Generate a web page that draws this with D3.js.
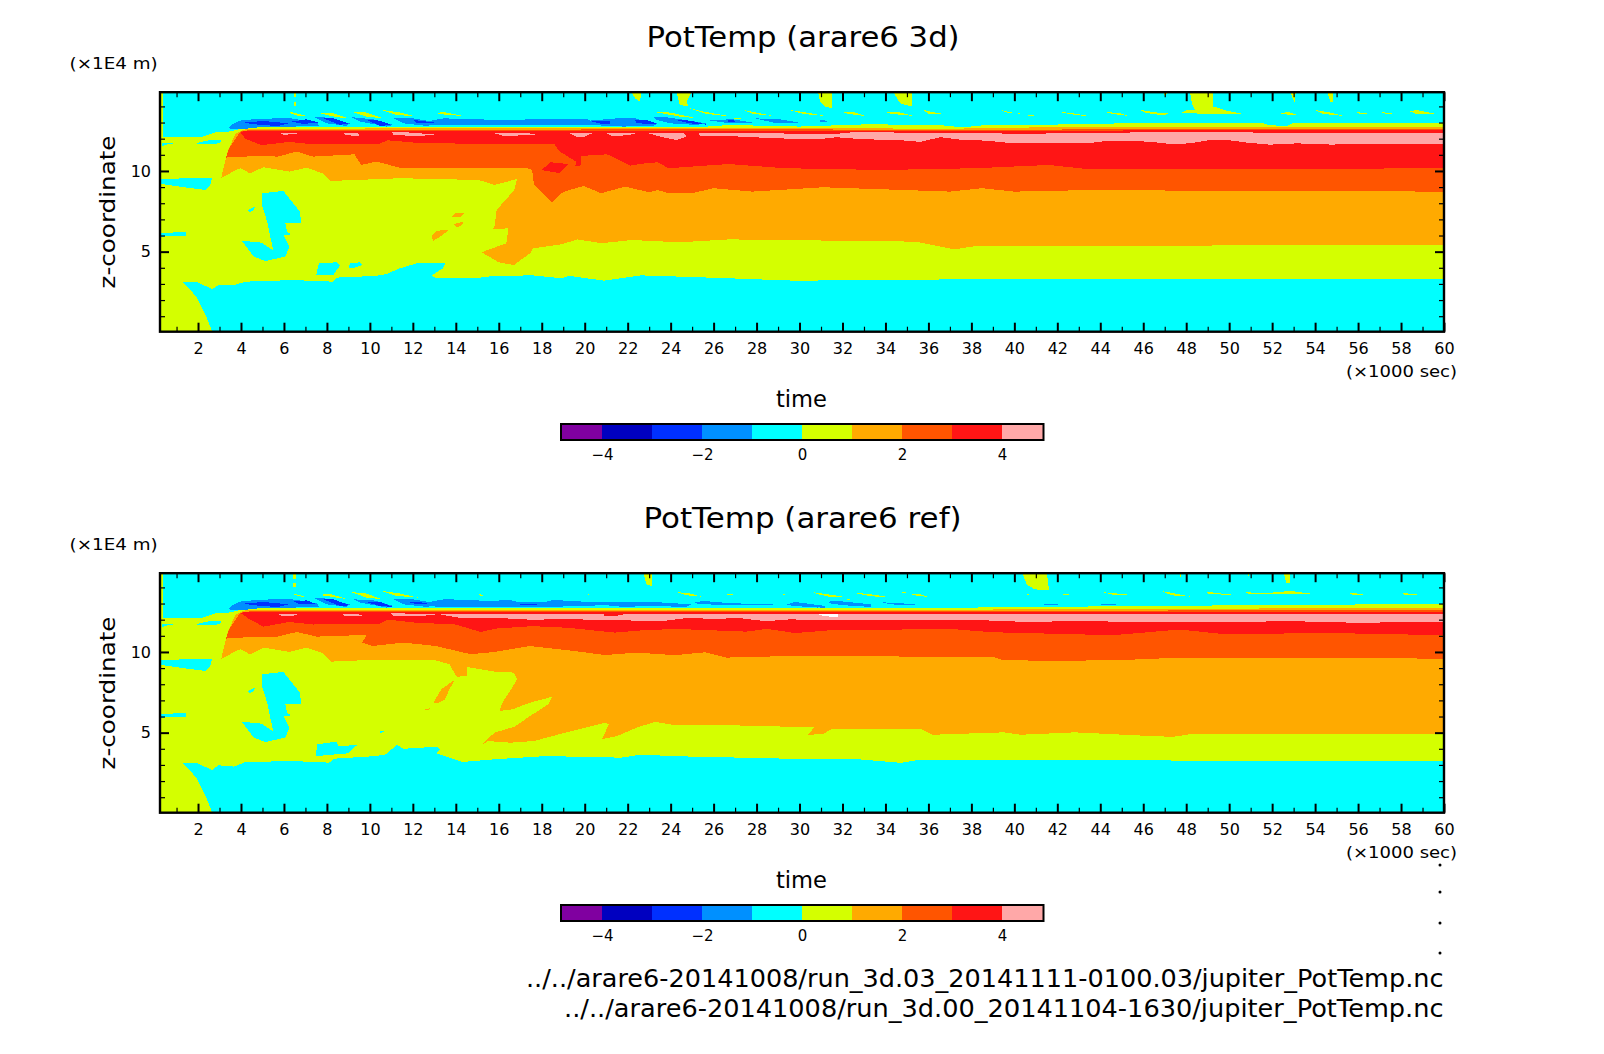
<!DOCTYPE html>
<html>
<head>
<meta charset="utf-8">
<title>PotTemp</title>
<script src="https://d3js.org/d3.v7.min.js"></script>
<style>
    body { margin: 0; background: #fff; }
    svg { display: block; }
    text { font-family: "DejaVu Sans", sans-serif; fill: #000; }
</style>
</head>
<body>
<svg width="1604" height="1054"></svg>
<script>
// contour levels and colours (one colour per 1 K interval)
var levelEdges = [-4, -3, -2, -1, 0, 1, 2, 3, 4];
var levelColors = ["#8000a0", "#0000c0", "#0030ff", "#0090ff", "#00ffff", "#d4ff00", "#ffaa00", "#ff5500", "#ff1515", "#ffa8a8"];
var legendTicks = [-4, -2, 0, 2, 4];
var timeMajor = d3.range(2, 61, 2);
var timeMinor = d3.range(1, 60, 2);
var zMajor = [5, 10];
var zMinor = [1, 2, 3, 4, 6, 7, 8, 9, 11, 12, 13, 14];

// everything below is [time (x1000 sec), z (x1E4 m)]

// patches which are the same in both runs (early time, below the tropopause)
var cyanBlobs = [
    [[5.0,8.62],[5.97,8.76],[6.43,8.0],[6.74,7.48],[6.8,6.8],[6.06,6.76],[6.15,6.24],[6.34,6.07],[5.97,6.03],[6.25,5.31],[6.06,4.69],[5.14,4.42],[4.6,4.69],[4.04,5.68],[4.96,5.56],[5.51,5.06],[5.33,6.14],[5.24,6.76],[5.0,7.79]],
    [[4.32,7.58],[4.65,7.79],[4.59,7.58],[4.41,7.44]],
    [[0.27,9.5],[2.66,9.59],[2.57,9.13],[2.35,8.82],[1.47,8.97],[0.27,9.2]],
    [[0.27,6.14],[1.47,6.24],[1.43,6.0],[0.27,5.93]],
    [[1.86,11.71],[2.56,11.92],[3.1,11.92],[3.02,11.71],[2.32,11.67]],
    [[0.3,11.71],[0.85,11.71],[0.46,11.61],[0.3,11.5]]
];
var leftStrip = [[0.23,12.0],[0.38,12.0],[0.38,14.88],[0.23,14.88]];
var greenTopLeft = [[0.23,12.13],[2.2,12.13],[2.85,12.4],[3.5,12.45]];

// run 3d: region boundaries
var cyanTop3d = [[2.66,0.04],[2.39,0.97],[1.93,2.2],[1.28,3.14],[1.93,3.14],[2.66,2.67],[2.94,2.93],[3.67,2.93],[4.22,3.14],[6.43,3.24],[8.27,3.14],[8.45,3.39],[10.3,3.5],[10.75,3.6],[11.4,3.97],[12.2,4.28],[13.5,4.28],[13.4,3.97],[12.9,3.55],[12.96,3.4],[14.9,3.35],[15.8,3.5],[17.6,3.53],[18.9,3.35],[19.3,3.5],[20.9,3.2],[22.6,3.53],[24.5,3.45],[26.7,3.35],[29.8,3.2],[37,3.28],[60,3.28],[60,0.04]];
var greenTop3d = [[4.27,12.7],[7,12.75],[21.8,12.75],[25.3,12.71],[26.76,12.85],[30,12.75],[33.1,12.89],[36.5,12.85],[37.6,12.7],[38.7,12.85],[43.4,12.89],[44.9,12.95],[51.6,12.95],[51.9,12.83],[52.7,12.79],[53,13],[53.8,12.95],[60,12.95]];
var orangeLow3d = [[3.16,10.06],[3.08,9.55],[3.76,10.06],[4,10.17],[4.41,9.85],[5.05,10.23],[6.25,9.96],[7.07,10.2],[7.8,9.85],[8.18,9.38],[11.4,9.55],[15.07,9.44],[15.8,9.13],[16.85,9.5],[16.72,8.82],[15.9,7.58],[15.8,6.55],[15.7,6.38],[16.45,6.45],[16.35,5.52],[15.2,4.96],[16,4.34],[16.7,4.17],[17.46,4.9],[17.6,5.2],[18.9,5.45],[19.67,5.76],[20.77,5.52],[22.2,5.72],[24.4,5.58],[26.7,5.76],[35.4,5.62],[37.2,5.14],[38.2,5.35],[60,5.41]];
var orangeTop3d = [[3.4,11.3],[3.76,12.33],[4.1,12.55],[4.5,12.62],[20,12.65],[30,12.68],[37,12.6],[38.7,12.68],[45,12.72],[60,12.75]];
var redOrangeLow3d = [[3.3,10.83],[4.78,10.93],[5.7,10.89],[6.6,11.2],[7.35,10.89],[9.28,11.03],[9.6,10.37],[10.3,10.58],[11.4,10.2],[17.28,10.2],[17.55,10.06],[17.64,9.13],[18.47,8.06],[19,8.7],[19.94,9.07],[20.77,8.62],[21.87,9.03],[23,8.68],[23.4,8.82],[23.9,8.62],[25,8.62],[26,8.93],[27.8,8.72],[31.1,8.99],[37,8.72],[38.5,8.93],[40,8.72],[43.6,8.82],[48,8.78],[60,8.72]];
var redOrangeTop3d = [[3.45,11.4],[3.9,12.3],[4,12.44],[4.5,12.55],[30,12.58],[38,12.52],[45,12.6],[60,12.62]];
var redLow3d = [[3.95,12.44],[4.2,12.0],[4.96,11.6],[6.25,11.8],[7.35,11.65],[9,11.65],[10.47,11.7],[10.84,11.9],[12.1,11.75],[14,11.7],[18.56,11.7],[18.84,11.2],[19.6,10.58],[19.57,10.33],[19.8,10.33],[19.85,10.93],[21,11.03],[21.3,10.89],[22.1,10.33],[22.8,10.47],[23.4,10.54],[23.9,10.17],[26.7,10.43],[29.3,10.17],[33.9,10.06],[38.2,10.17],[41.6,10.37],[43.4,10.12],[52.3,10.12],[60,10.17]];
var redTop3d = [[4.5,12.46],[30,12.5],[38,12.5],[60,12.52]];
var redBlob3d = [[18,10.06],[18.4,10.54],[19.26,10.43],[18.84,9.86],[18.4,9.96]];
var orangeBlobs3d = [
    [[13.82,7.21],[13.97,7.38],[14.37,7.38],[14.24,7.17],[13.88,7.13]],
    [[13.91,6.71],[14.33,6.86],[14.3,6.65],[14.06,6.49]],
    [[12.86,5.97],[13.14,6.3],[13.69,6.34],[13.23,5.89],[12.96,5.68]]
];
var cyanLow3d = [
    [[7.63,4.28],[8.45,4.34],[8.6,4.13],[8.3,3.55],[7.5,3.55]],
    [[9.1,4.28],[9.55,4.34],[9.65,4.17],[9.28,4.0],[9.0,4.0]]
];
var pink3d = [
    [[5.85,12.33],[6.93,12.37],[6.0,12.23]],
    [[8.73,12.37],[9.46,12.33],[9.49,12.17],[8.92,12.21]],
    [[11.0,12.44],[12.02,12.37],[13.23,12.23],[12.02,12.17],[11.1,12.23]],
    [[15.82,12.33],[17.3,12.37],[17.76,12.23],[16.2,12.17]],
    [[19.31,12.33],[20.4,12.37],[20.0,12.13],[19.6,12.13]],
    [[21.0,12.33],[22.5,12.37],[22.03,12.21],[21.25,12.17]],
    [[22.88,12.37],[24.59,12.37],[24.74,12.13],[24.28,11.92],[23.5,12.13]],
    [[25.29,12.37],[30.96,12.3],[31.7,12.3],[32.67,12.42],[35,12.37],[38,12.37],[40,12.3],[45,12.37],[47,12.44],[52,12.37],[60,12.37],[60,11.67],[55.3,11.67],[54.85,11.63],[53.15,11.71],[51.9,11.63],[50.8,11.76],[49.9,11.92],[49.1,11.92],[48.2,11.71],[47.25,11.67],[46.3,11.82],[44.3,11.86],[43.4,11.71],[42.1,11.76],[39.96,11.71],[38.7,11.88],[37.6,11.92],[36.55,12.09],[35.6,11.8],[35,11.88],[32.8,11.98],[31.7,12.09],[30.96,11.98],[28.78,12.02],[27.38,12.13],[25.36,12.17]]
];
var lightBlue3d = [
    [[3.41,12.64],[3.57,12.89],[3.95,13.12],[4.73,13.22],[6.2,13.28],[7.52,13.02],[7.65,12.79],[6.44,12.75],[4.88,12.71],[3.95,12.58]],
    [[7.44,13.33],[7.83,13.33],[9.07,12.95],[8.92,12.79],[7.99,12.95]],
    [[9.15,13.33],[10.16,13.2],[11.09,12.85],[10.78,12.75],[9.54,13.06]],
    [[11.09,13.26],[12.02,13.26],[13.42,12.95],[12.64,12.79],[11.56,12.95]],
    [[13.42,13.26],[16.05,13.16],[17.2,13.16],[17.3,13.24],[20.09,13.24],[20.24,13.12],[21.49,13.26],[22.34,13.26],[22.88,13.06],[23.4,12.95],[23.2,12.79],[21.8,12.75],[20.24,12.85],[13.1,12.85],[12.64,13.06]],
    [[23.19,13.33],[23.81,13.33],[25.68,12.95],[25.2,12.85],[23.97,12.95],[23.35,13.16]],
    [[25.68,13.16],[26.92,13.2],[28,12.95],[26.76,12.95]],
    [[27.93,13.26],[29.09,13.2],[30.18,12.95],[28.93,12.95]],
    [[30.96,13.16],[31.5,13.08],[30.96,13.04]]
];
var deepBlue3d = [
    [[4.11,12.99],[5.04,13.1],[6.2,12.95],[5.74,12.79],[4.88,12.85]],
    [[6.36,13.06],[7.06,13.2],[7.6,13],[6.9,12.91]],
    [[7.83,13.26],[8.3,13.26],[9,12.95],[8.61,12.85]],
    [[9.85,13.16],[10.47,13.12],[11.01,12.85],[10.47,12.79]],
    [[12.02,13.16],[12.64,13.06],[13.26,12.95],[12.18,12.95]],
    [[20.24,13.1],[21.2,13.08],[21.2,12.9],[20.9,12.88]],
    [[22.34,13.16],[22.88,13.16],[23.4,12.91],[22.42,12.95]],
    [[24.25,13.16],[24.9,13.12],[25.68,12.87],[24.9,12.95]],
    [[26.64,13.16],[27,13.12],[27,13],[26.7,13.04]]
];
var streaks3d = [
    [[6.45,14.82],[6.55,14.82],[6.55,14.6],[6.45,14.6]],
    [[6.45,14.3],[6.55,14.3],[6.55,14.05],[6.45,14.05]],
    [[6.25,13.68],[6.59,13.57],[7.06,13.41],[6.67,13.41],[6.28,13.57]],
    [[7.68,13.57],[8.3,13.57],[9.0,13.26],[8.45,13.33]],
    [[9.15,13.68],[9.85,13.62],[10.63,13.26],[9.85,13.37]],
    [[10.55,13.78],[11.4,13.62],[12.18,13.37],[11.25,13.47]],
    [[13.1,13.57],[13.42,13.66],[14.35,13.41],[13.57,13.47]],
    [[21.72,13.56],[22.03,13.53],[21.9,13.5]],
    [[23.12,13.68],[23.97,13.62],[25.24,13.26],[24.43,13.37]],
    [[24.9,13.88],[25.52,13.68],[26.84,13.37],[25.68,13.53]],
    [[26.92,13.26],[27.3,13.26],[27.15,13.2]],
    [[27.38,13.78],[28,13.62],[28.78,13.41],[27.85,13.53]],
    [[29.51,13.78],[30.33,13.62],[31.18,13.41],[30.18,13.53]],
    [[22.18,14.88],[22.65,14.88],[22.57,14.3],[22.34,14.5]],
    [[24.28,14.88],[24.98,14.88],[24.74,14.3],[24.85,13.99],[24.43,14.09]],
    [[30.87,14.88],[31.5,14.88],[31.5,13.88],[31.19,14.0],[30.95,14.3]],
    [[34.37,14.88],[35.23,14.88],[35.23,13.99],[34.68,14.19]],
    [[31.97,13.68],[32.59,13.62],[33.05,13.41],[32.28,13.53]],
    [[33.91,13.68],[34.68,13.62],[35.3,13.41],[34.3,13.53]],
    [[35.77,13.78],[36.31,13.62],[36.7,13.53],[36,13.53]],
    [[39.34,13.78],[39.88,13.62],[40.42,13.53],[39.65,13.62]],
    [[40.5,13.47],[41,13.45],[40.73,13.41]],
    [[42,13.68],[42.75,13.57],[43.6,13.37],[42.83,13.47]],
    [[44.15,13.68],[44.92,13.57],[45.31,13.41],[44.6,13.53]],
    [[45.85,13.78],[46.63,13.62],[47.41,13.53],[46.79,13.47],[46.09,13.6]],
    [[48.18,14.88],[49.27,14.88],[49.27,13.99],[49.89,13.74],[50.67,13.53],[47.72,13.57],[48.03,13.78],[48.42,13.78],[48.26,14.19]],
    [[46.94,14.88],[47.13,14.88],[47.02,14.61]],
    [[52.84,14.88],[53.1,14.88],[53.04,14.23]],
    [[54.58,14.88],[54.82,14.88],[54.82,14.3],[54.7,14.3]],
    [[52.37,13.57],[52.76,13.66],[53.23,13.45],[52.84,13.47]],
    [[54,13.78],[54.7,13.62],[55.32,13.41],[54.39,13.53]],
    [[55.82,13.68],[56.56,13.53],[56.1,13.53]],
    [[56.95,13.68],[57.73,13.53],[57.34,13.53]],
    [[58.42,13.68],[58.73,13.78],[59.63,13.53],[58.73,13.53]]
];

// run ref: region boundaries
var cyanTopRef = [[2.66,0.04],[2.39,0.97],[1.93,2.2],[1.28,3.14],[1.93,3.14],[2.66,2.67],[2.94,2.98],[3.67,2.9],[4.22,3.18],[6.43,3.24],[8.1,3.14],[8.36,3.39],[10.3,3.55],[10.75,3.66],[11.25,4.24],[11.58,4.0],[13.14,4.13],[13.27,3.97],[13.08,3.72],[14.3,3.18],[15.8,3.35],[18.2,3.55],[19.5,3.51],[21.7,3.45],[22.6,3.64],[24.2,3.54],[29.3,3.39],[32.4,3.39],[34.7,3.13],[35.4,3.28],[42.1,3.28],[45.1,3.28],[60,3.24],[60,0.04]];
var greenTopRef = [[4.3,12.7],[20,12.75],[31,12.7],[38,12.75],[46.2,12.85],[56.9,12.95],[60,12.95]];
var orangeLowRef = [[3.16,10.06],[3.08,9.55],[3.76,10.06],[4,10.17],[4.41,9.85],[5.05,10.27],[6.25,10],[7.07,10.27],[7.8,9.92],[8.18,9.4],[9.92,9.5],[13.05,9.48],[13.7,9.24],[14.04,8.47],[14.5,8.5],[14.5,9.07],[15.8,8.78],[16.7,8.72],[16.85,8.3],[16.63,7.79],[16.17,6.86],[16.03,6.34],[16.64,6.45],[17.46,6.86],[18.5,7.23],[18.3,6.76],[17.46,6.03],[16.73,5.37],[15.8,5.0],[15.2,4.24],[15.5,4.48],[16.54,4.38],[17.64,4.48],[19.1,5.0],[20.95,5.62],[21.13,5.52],[20.8,4.59],[21.5,4.79],[22.5,5.35],[23.3,5.67],[24.2,5.46],[26.7,5.46],[30,5.35],[30.7,5.35],[30.4,4.87],[31.1,4.91],[31.5,5.24],[35.7,5.2],[36.2,4.87],[39.5,5.02],[40.3,4.87],[42.8,5.02],[46.2,4.8],[47.4,4.74],[48.2,4.91],[60,4.91]];
var orangeTopRef = [[3.4,11.3],[3.76,12.33],[4.1,12.55],[4.5,12.62],[30,12.6],[45,12.65],[60,12.75]];
var redOrangeLowRef = [[3.3,10.83],[4.78,10.95],[5.7,10.95],[6.6,11.24],[7.53,10.95],[9.28,11.03],[9.83,11.03],[9.65,10.58],[10.1,10.37],[11.58,10.58],[13.05,10.37],[14.7,9.86],[15.8,10],[17.45,10.37],[19.5,10.06],[20.95,9.81],[22.4,9.96],[24.2,9.8],[25.6,9.98],[26.6,9.65],[29.3,9.74],[39,9.7],[39.4,9.52],[41.6,9.43],[45.4,9.52],[47.4,9.63],[60,9.59]];
var redOrangeTopRef = [[3.45,11.4],[3.9,12.3],[4,12.44],[4.5,12.53],[30,12.54],[45,12.56],[60,12.62]];
var redLowRef = [[3.95,12.44],[4.4,12.02],[5.05,11.57],[6.25,11.86],[7.35,11.7],[9,11.76],[10.47,11.76],[10.84,12],[12.1,11.82],[14,11.7],[15.15,11.24],[15.9,11.45],[17.55,11.6],[19.2,11.5],[21.4,11.2],[22.6,11.33],[24.2,11.43],[27.5,11.26],[28.5,11.43],[29.8,11.17],[31.3,11.33],[37,11.43],[39,11.22],[44.6,11.04],[47.7,11.39],[49.7,11.11],[54.8,11.17],[60,11.04]];
var redTopRef = [[4.5,12.46],[30,12.48],[60,12.5]];
var orangeBlobsRef = [
    [[12.96,6.86],[13.33,7.69],[13.97,8.3],[13.7,7.69],[13.5,7.07],[13.14,6.82]],
    [[12.5,6.4],[12.86,6.55],[12.7,6.38]]
];
var cyanLowRef = [
    [[7.53,4.28],[8.45,4.44],[8.55,4.17],[9.1,4.21],[9.4,4.23],[9.0,3.72],[7.5,3.55]],
    [[10.47,5.1],[10.67,5.1],[10.5,4.94]]
];
var pinkRef = [
    [[5.78,12.33],[6.75,12.37],[6.44,12.25],[5.9,12.23]],
    [[8.69,12.37],[9.38,12.37],[9.73,12.21],[8.84,12.21]],
    [[10.94,12.42],[11.87,12.37],[13.34,12.37],[12.33,12.21],[11.09,12.21]],
    [[13.1,12.37],[15.6,12.37],[20.87,12.37],[21.8,12.33],[31,12.37],[38.2,12.37],[45,12.37],[60,12.37],[60,11.86],[58.2,11.86],[56.2,11.8],[54.4,11.86],[52.5,11.92],[51.1,11.86],[45.4,11.86],[43.14,11.92],[40.57,11.86],[38.2,11.98],[31.4,11.96],[29.55,12.02],[28.6,11.92],[28,11.96],[27.07,12.13],[26.1,12.02],[24.9,12.13],[23.66,11.92],[20.56,11.98],[18.7,12.07],[17.76,11.98],[15.6,12.13],[14.1,12.13]]
];
var redPatchRef = [[20.87,12.42],[21.8,12.4],[21.8,12.27],[20.9,12.23]];
var whiteGapRef = [[30.87,12.33],[31.8,12.33],[31.8,12.17],[31.4,12.19],[30.96,12.27]];
var lightBlueRef = [
    [[3.41,12.64],[3.57,12.89],[3.95,13.12],[4.73,13.22],[6.2,13.3],[7.52,13.02],[7.65,12.79],[6.44,12.75],[4.88,12.71],[3.95,12.58]],
    [[7.44,13.33],[7.83,13.33],[9.07,12.95],[8.92,12.79],[7.99,12.95]],
    [[9.23,13.26],[10.16,13.2],[11.09,12.85],[10.78,12.75],[9.54,13.06]],
    [[11.09,13.26],[12.02,13.26],[13.42,12.95],[12.64,12.79],[11.56,12.95]],
    [[13.42,13.26],[13.73,13.26],[15.59,13.16],[16.52,13.22],[16.83,13.12],[18.23,13.12],[18.54,13.22],[19.93,13.12],[22.88,13.12],[24.12,13.02],[24.98,12.95],[24.74,12.79],[23.04,12.85],[21.8,12.79],[20.87,12.91],[19.93,12.83],[17.14,12.79],[13.1,12.79],[12.64,13.06]],
    [[25.13,13.06],[25.52,13.16],[26.76,13.02],[28.78,12.95],[28.78,12.91],[26.45,12.89],[25.21,13]],
    [[29.4,12.95],[29.79,13.1],[31.18,12.85],[30.87,12.75],[29.71,12.85]],
    [[30.96,12.85],[31.19,12.85],[31.19,12.75],[30.96,12.75]],
    [[31.44,13.16],[32.1,13.12],[33.34,12.95],[33.34,12.79],[32.1,12.89],[31.34,13.02]],
    [[33.81,13.08],[34.57,13.02],[35.66,12.95],[34.57,12.91],[34.1,13]],
    [[41.37,12.95],[42.03,12.95],[42.03,12.91],[41.37,12.91]],
    [[44.03,12.95],[44.75,12.95],[44.75,12.91],[44.03,12.91]]
];
var deepBlueRef = [
    [[4.11,12.99],[5.04,13.1],[6.2,12.95],[5.74,12.79],[4.88,12.85]],
    [[6.44,13.12],[7.06,13.2],[7.52,12.95],[6.75,12.95]],
    [[7.83,13.26],[8.3,13.26],[9.07,12.89],[8.61,12.85]],
    [[9.77,13.12],[10.47,13.1],[11.09,12.79],[10.47,12.85]],
    [[11.71,13.12],[12.49,13.06],[12.8,12.95],[12.18,12.95]],
    [[17.0,12.97],[17.76,12.97],[17.76,12.9],[17.0,12.91]]
];
var streaksRef = [
    [[6.4,14.82],[6.55,14.82],[6.55,14.55],[6.4,14.55]],
    [[6.4,14.3],[6.55,14.3],[6.55,14.05],[6.4,14.05]],
    [[6.36,13.62],[6.75,13.53],[7.03,13.37],[6.67,13.47]],
    [[7.68,13.53],[8.07,13.62],[9,13.26],[8.45,13.37]],
    [[9.07,13.72],[9.85,13.62],[10.55,13.26],[9.85,13.37]],
    [[10.55,13.78],[11.4,13.62],[12.25,13.37],[11.25,13.47]],
    [[15.09,13.57],[15.44,13.53],[15.12,13.47]],
    [[22.73,14.88],[23.12,14.88],[23.12,14.09],[22.88,14.19]],
    [[24.25,13.72],[24.9,13.62],[25.44,13.43],[24.74,13.51]],
    [[20.14,13.57],[20.4,13.53],[20.14,13.52]],
    [[26.61,13.57],[27.15,13.55],[26.61,13.52]],
    [[29.24,13.57],[29.52,13.53],[29.24,13.52]],
    [[30.64,13.7],[31.34,13.57],[32.1,13.41],[31.44,13.41],[30.87,13.57]],
    [[32.48,13.68],[33.34,13.57],[34.29,13.37],[33.34,13.45]],
    [[34.67,13.7],[35.05,13.7],[34.86,13.66]],
    [[35.05,13.62],[35.62,13.57],[36,13.41],[35.43,13.49]],
    [[32.2,13.26],[32.39,13.26],[32.3,13.22]],
    [[40.38,14.88],[41.52,14.88],[41.61,13.82],[40.95,13.88],[40.57,14.19]],
    [[40.57,13.57],[40.76,13.55],[40.57,13.53]],
    [[42.28,13.57],[42.76,13.55],[42.28,13.53]],
    [[44.14,13.7],[44.66,13.64],[45.32,13.55],[44.56,13.55]],
    [[46.85,13.78],[47.32,13.66],[48.18,13.43],[47.32,13.51]],
    [[48.94,13.74],[49.51,13.64],[50.14,13.55],[49.03,13.57]],
    [[50.75,13.7],[51.7,13.64],[52.84,13.78],[54.08,13.57],[50.94,13.56]],
    [[55.5,13.68],[56.36,13.57],[55.79,13.53]],
    [[58.07,13.66],[58.83,13.55],[58.17,13.53]],
    [[47.7,14.88],[47.78,14.88],[47.74,14.61]],
    [[50.86,14.88],[50.94,14.88],[50.9,14.71]],
    [[52.55,14.88],[52.84,14.88],[52.84,14.3],[52.65,14.3]]
];

var fileLines = [
    "../../arare6-20141008/run_3d.03_20141111-0100.03/jupiter_PotTemp.nc",
    "../../arare6-20141008/run_3d.00_20141104-1630/jupiter_PotTemp.nc"
];
var dotY = [865, 892, 923, 953];

var svg = d3.select("svg");

var x = d3.scaleLinear().domain([0.23, 60]).range([160, 1444]);
var y = d3.scaleLinear().domain([0.04, 14.88]).range([331.7, 92.2]);
var color = d3.scaleThreshold().domain(levelEdges).range(levelColors);
var legendX = d3.scaleLinear().domain([-4.82, 4.83]).range([561, 1043.5]);
var line = d3.line().x(function (d) { return x(d[0]); }).y(function (d) { return y(d[1]); });

// filled region: lower boundary, then upper boundary going back
function band(low, top) {
    return low.concat(top.slice().reverse());
}

function bottomUp(topEdge) {
    return [[0.23, 0.04], [60, 0.04]].concat(topEdge.slice().reverse());
}

var panels = [
    {
        title: "PotTemp (arare6 3d)", dy: 0, titleX: [646.5, 959.6], titleY: 46.5,
        layers: [
            [0.5, [bottomUp(greenTopLeft.concat(greenTop3d)), leftStrip]],
            [-0.5, [cyanTop3d].concat(cyanBlobs, cyanLow3d)],
            [1.5, [band(orangeLow3d, orangeTop3d)].concat(orangeBlobs3d)],
            [2.5, [band(redOrangeLow3d, redOrangeTop3d)]],
            [3.5, [band(redLow3d, redTop3d), redBlob3d]],
            [4.5, pink3d],
            [-1.5, lightBlue3d],
            [-2.5, deepBlue3d],
            [0.5, streaks3d]
        ]
    },
    {
        title: "PotTemp (arare6 ref)", dy: 481, titleX: [643.5, 961.6], titleY: 46.5,
        layers: [
            [0.5, [bottomUp(greenTopLeft.concat(greenTopRef)), leftStrip]],
            [-0.5, [cyanTopRef].concat(cyanBlobs, cyanLowRef)],
            [1.5, [band(orangeLowRef, orangeTopRef)].concat(orangeBlobsRef)],
            [2.5, [band(redOrangeLowRef, redOrangeTopRef)]],
            [3.5, [band(redLowRef, redTopRef)]],
            [4.5, pinkRef],
            [3.5, [redPatchRef]],
            [-1.5, lightBlueRef],
            [-2.5, deepBlueRef],
            [0.5, streaksRef]
        ]
    }
];

function styleTicks(g, width) {
    g.select(".domain").remove();
    g.selectAll("line").attr("stroke", "#000").attr("stroke-width", width);
    g.selectAll("text").attr("font-family", "DejaVu Sans").attr("font-size", 16).attr("fill", "#000");
}

panels.forEach(function (p, i) {
    var g = svg.append("g").attr("transform", "translate(0," + p.dy + ")");
    var clipId = "clip-" + i;

    g.append("clipPath").attr("id", clipId).append("rect")
        .attr("x", x.range()[0]).attr("y", y.range()[1])
        .attr("width", x.range()[1] - x.range()[0])
        .attr("height", y.range()[0] - y.range()[1]);

    var plot = g.append("g").attr("clip-path", "url(#" + clipId + ")");

    plot.append("rect")
        .attr("x", x.range()[0]).attr("y", y.range()[1])
        .attr("width", x.range()[1] - x.range()[0])
        .attr("height", y.range()[0] - y.range()[1])
        .attr("fill", color(-0.5));

    p.layers.forEach(function (layer) {
        plot.append("g").selectAll("path")
            .data(layer[1])
            .enter().append("path")
            .attr("d", function (d) { return line(d) + "Z"; })
            .attr("fill", color(layer[0]))
            .attr("shape-rendering", "crispEdges");
    });

    if (i == 1) {
        plot.append("path")
            .attr("d", line(whiteGapRef) + "Z")
            .attr("fill", "#fff")
            .attr("shape-rendering", "crispEdges");
    }

    // tick marks on all four sides, labels only bottom and left
    var x0 = y.range()[0], x1 = y.range()[1], y0 = x.range()[0], y1 = x.range()[1];

    g.append("g").attr("transform", "translate(0," + x0 + ")")
        .call(d3.axisBottom(x).tickValues(timeMajor).tickSize(-9).tickPadding(11).tickFormat(d3.format("d")))
        .call(styleTicks, 2);
    g.append("g").attr("transform", "translate(0," + x0 + ")")
        .call(d3.axisBottom(x).tickValues(timeMinor).tickSize(-5).tickFormat(""))
        .call(styleTicks, 1.2);
    g.append("g").attr("transform", "translate(0," + x1 + ")")
        .call(d3.axisTop(x).tickValues(timeMajor).tickSize(-9).tickFormat(""))
        .call(styleTicks, 2);
    g.append("g").attr("transform", "translate(0," + x1 + ")")
        .call(d3.axisTop(x).tickValues(timeMinor).tickSize(-5).tickFormat(""))
        .call(styleTicks, 1.2);
    g.append("g").attr("transform", "translate(" + y0 + ",0)")
        .call(d3.axisLeft(y).tickValues(zMajor).tickSize(-9).tickPadding(9).tickFormat(d3.format("d")))
        .call(styleTicks, 2);
    g.append("g").attr("transform", "translate(" + y0 + ",0)")
        .call(d3.axisLeft(y).tickValues(zMinor).tickSize(-5).tickFormat(""))
        .call(styleTicks, 1.2);
    g.append("g").attr("transform", "translate(" + y1 + ",0)")
        .call(d3.axisRight(y).tickValues(zMajor).tickSize(-9).tickFormat(""))
        .call(styleTicks, 2);
    g.append("g").attr("transform", "translate(" + y1 + ",0)")
        .call(d3.axisRight(y).tickValues(zMinor).tickSize(-5).tickFormat(""))
        .call(styleTicks, 1.2);

    g.append("rect")
        .attr("x", y0).attr("y", x1)
        .attr("width", y1 - y0).attr("height", x0 - x1)
        .attr("fill", "none").attr("stroke", "#000").attr("stroke-width", 2.4);

    g.append("text")
        .attr("x", p.titleX[0]).attr("y", p.titleY)
        .attr("font-size", 28)
        .attr("textLength", p.titleX[1] - p.titleX[0])
        .attr("lengthAdjust", "spacingAndGlyphs")
        .text(p.title);

    g.append("text")
        .attr("x", 69.6).attr("y", 69)
        .attr("font-size", 16)
        .attr("textLength", 88)
        .attr("lengthAdjust", "spacingAndGlyphs")
        .text("(×1E4 m)");

    g.append("text")
        .attr("transform", "translate(115,288.5) rotate(-90)")
        .attr("font-size", 21)
        .attr("textLength", 153)
        .attr("lengthAdjust", "spacingAndGlyphs")
        .text("z-coordinate");

    g.append("text")
        .attr("x", 1346).attr("y", 377)
        .attr("font-size", 16)
        .attr("textLength", 111)
        .attr("lengthAdjust", "spacingAndGlyphs")
        .text("(×1000 sec)");

    g.append("text")
        .attr("x", 776).attr("y", 407)
        .attr("font-size", 23)
        .attr("textLength", 51)
        .attr("lengthAdjust", "spacingAndGlyphs")
        .text("time");

    // colour bar
    var bar = g.append("g");
    bar.selectAll("rect")
        .data(levelColors)
        .enter().append("rect")
        .attr("x", function (d, k) { return legendX(Math.max(k - 5, -4.82)); })
        .attr("y", 424)
        .attr("width", function (d, k) { return legendX(Math.min(k - 4, 4.83)) - legendX(Math.max(k - 5, -4.82)); })
        .attr("height", 16)
        .attr("fill", function (d) { return d; })
        .attr("shape-rendering", "crispEdges");
    bar.append("rect")
        .attr("x", 561).attr("y", 424)
        .attr("width", 482.5).attr("height", 16)
        .attr("fill", "none").attr("stroke", "#000").attr("stroke-width", 2);
    bar.append("g").attr("transform", "translate(0,440)")
        .call(d3.axisBottom(legendX).tickValues(legendTicks).tickSize(0).tickPadding(9))
        .call(styleTicks, 0)
        .selectAll("text").attr("font-size", 15);
    bar.select("g").select(".domain").remove();
});

svg.selectAll(".file")
    .data(fileLines)
    .enter().append("text")
    .attr("class", "file")
    .attr("x", 1443.5)
    .attr("y", function (d, i) { return 986.5 + i * 30.5; })
    .attr("text-anchor", "end")
    .attr("font-size", 24)
    .attr("textLength", function (d, i) { return i == 0 ? 917.5 : 879.5; })
    .attr("lengthAdjust", "spacingAndGlyphs")
    .text(function (d) { return d; });

svg.selectAll(".dot")
    .data(dotY)
    .enter().append("circle")
    .attr("class", "dot")
    .attr("cx", 1440)
    .attr("cy", function (d) { return d; })
    .attr("r", 1.5)
    .attr("fill", "#000");
</script>
</body>
</html>
